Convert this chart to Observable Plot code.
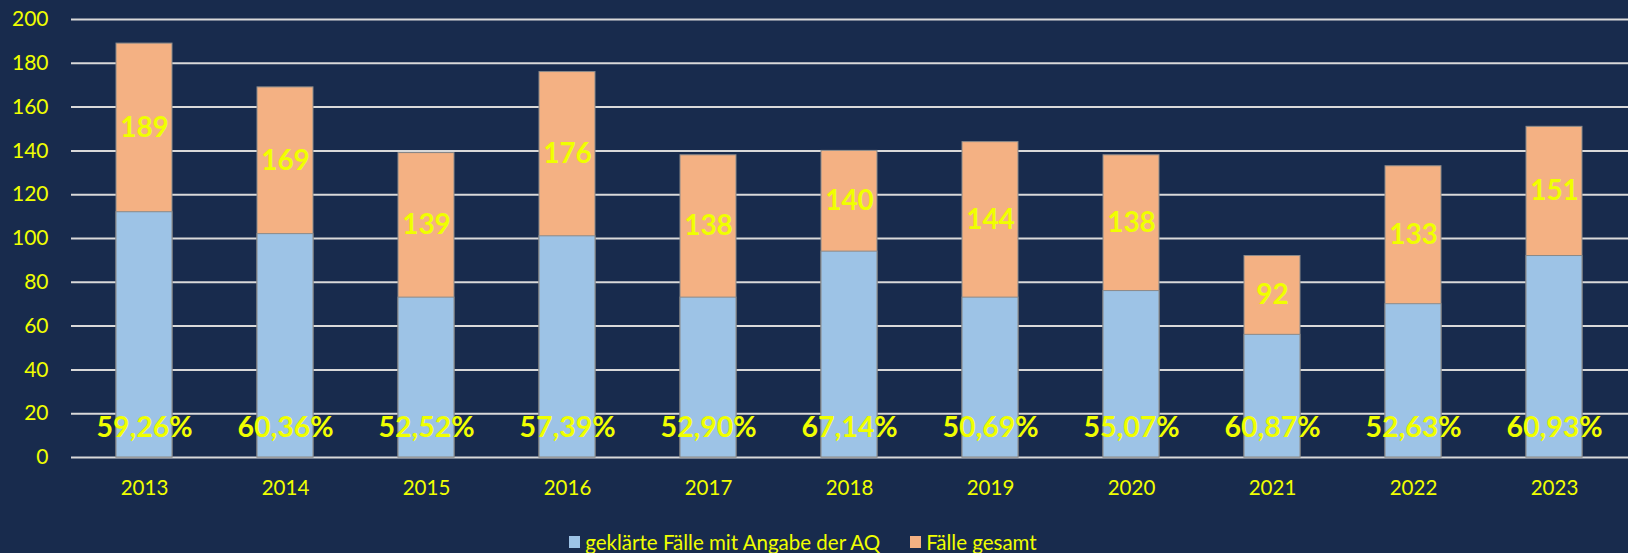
<!DOCTYPE html>
<html>
<head>
<meta charset="utf-8">
<script src="https://cdn.jsdelivr.net/npm/d3@7"></script>
<script src="https://cdn.jsdelivr.net/npm/@observablehq/plot@0.6"></script>
<style>
  html, body { margin: 0; padding: 0; background: #182b4d; }
  #chart { width: 1628px; height: 553px; overflow: hidden; }
  .legend { display: flex; justify-content: center; align-items: center; height: 33px; font-family: Lato, "Open Sans", sans-serif; font-size: 20.5px; color: #f0ff00; padding-right: 22px; padding-top: 5px; }
  .legend .item { display: flex; align-items: center; margin: 0 15px; }
  .legend .sw { width: 11px; height: 12px; margin-right: 5px; }
</style>
</head>
<body>
<div id="chart"></div>
<script>
const years = ["2013","2014","2015","2016","2017","2018","2019","2020","2021","2022","2023"];
const total = [189,169,139,176,138,140,144,138,92,133,151];
const cleared = [112,102,73,101,73,94,73,76,56,70,92];
const percent = ["59,26%","60,36%","52,52%","57,39%","52,90%","67,14%","50,69%","55,07%","60,87%","52,63%","60,93%"];
const yTicks = [0,20,40,60,80,100,120,140,160,180,200];
const seriesNames = ["geklärte Fälle mit Angabe der AQ", "Fälle gesamt"];
const colors = ["#9dc3e6", "#f4b183"];

const data = years.map((y, i) => ({year: y, total: total[i], cleared: cleared[i], pct: percent[i]}));
const yellow = "#f0ff00";
const font = "Lato, 'Open Sans', sans-serif";

const plot = Plot.plot({
  width: 1628,
  height: 520,
  marginTop: 19,
  marginBottom: 63,
  marginLeft: 71,
  marginRight: 0,
  style: {background: "#182b4d", fontFamily: font, color: yellow},
  x: {domain: years, paddingInner: 0.6, paddingOuter: 0.3, label: null},
  y: {domain: [0, 200], ticks: yTicks, label: null},
  marks: [
    Plot.ruleY(yTicks, {stroke: "#d9d9d9", strokeWidth: 2, strokeOpacity: 1}),
    Plot.barY(data, {x: "year", y: "total", fill: colors[1], stroke: "#8a8a8a", strokeWidth: 1, inset: 0}),
    Plot.barY(data, {x: "year", y: "cleared", fill: colors[0], stroke: "#8a8a8a", strokeWidth: 1, inset: 0}),
    Plot.text(data, {x: "year", y: d => (d.cleared + d.total) / 2, text: d => String(d.total), fill: yellow, fontSize: 28, fontWeight: "bold"}),
    Plot.text(data, {x: "year", y: 0, dy: -30, text: "pct", fill: yellow, fontSize: 28.5, fontWeight: "bold"}),
    Plot.axisX({tickSize: 0, tickPadding: 23, fontSize: 20.5, fill: yellow, label: null}),
    Plot.axisY({ticks: yTicks, tickSize: 0, tickPadding: 23, fontSize: 21, fill: yellow, label: null})
  ]
});
document.getElementById("chart").appendChild(plot);

const legend = document.createElement("div");
legend.className = "legend";
seriesNames.forEach((name, i) => {
  const item = document.createElement("div");
  item.className = "item";
  const sw = document.createElement("span");
  sw.className = "sw";
  sw.style.background = colors[i];
  const t = document.createElement("span");
  t.textContent = name;
  item.appendChild(sw);
  item.appendChild(t);
  legend.appendChild(item);
});
document.getElementById("chart").appendChild(legend);
</script>
</body>
</html>
